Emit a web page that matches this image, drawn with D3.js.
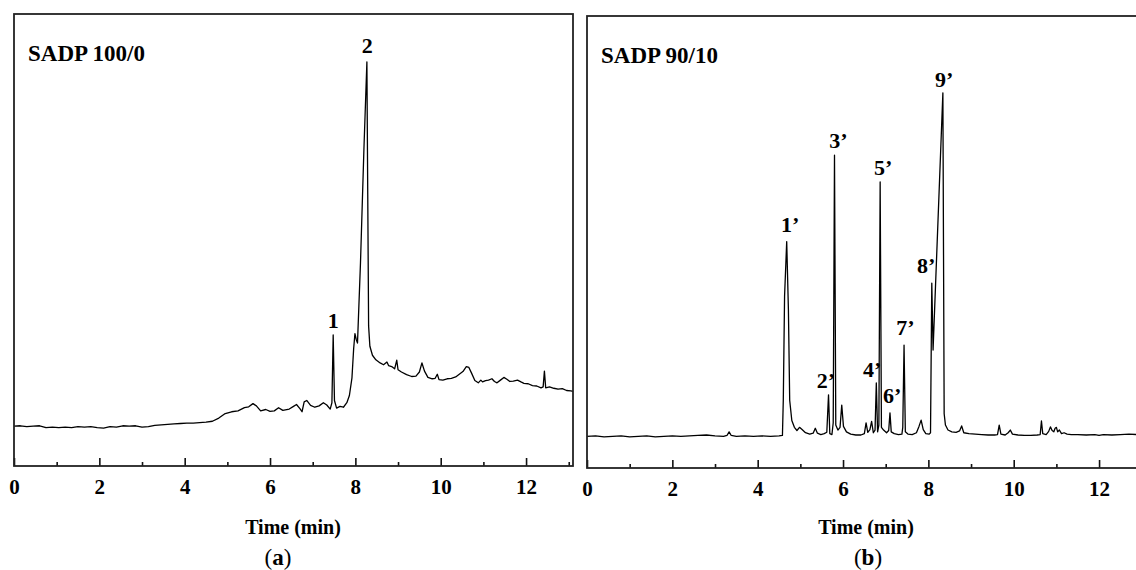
<!DOCTYPE html>
<html>
<head>
<meta charset="utf-8">
<script src="https://cdn.jsdelivr.net/npm/d3@7/dist/d3.min.js"></script>
<style>
  body { margin: 0; background: #fff; }
  svg text { font-family: "Liberation Serif", "Times New Roman", serif; }
</style>
</head>
<body>
<svg id="chart" width="1136" height="570"></svg>
<script>
// chromatogram (a) SADP 100/0 : time in min, intensity in % of axis height
const timeA = [0.00, 0.15, 0.30, 0.45, 0.60, 0.75, 0.90, 1.05, 1.20, 1.35, 1.50, 1.65, 1.80, 1.95, 2.10, 2.25, 2.40, 2.55, 2.70, 2.85,
  3.00, 3.15, 3.30, 3.45, 3.60, 3.75, 3.90, 4.05, 4.20, 4.35, 4.50, 4.65, 4.80, 4.95, 5.10, 5.25, 5.40, 5.50, 5.60, 5.68,
  5.78, 5.90, 6.00, 6.10, 6.20, 6.30, 6.45, 6.55, 6.62, 6.70, 6.75, 6.80, 6.86, 6.95, 7.05, 7.15, 7.25, 7.33, 7.41, 7.45,
  7.48, 7.51, 7.56, 7.64, 7.72, 7.80, 7.86, 7.92, 7.96, 7.99, 8.02, 8.05, 8.12, 8.20, 8.27, 8.29, 8.31, 8.34, 8.40, 8.48,
  8.58, 8.66, 8.74, 8.78, 8.85, 8.92, 8.97, 9.00, 9.08, 9.20, 9.32, 9.42, 9.50, 9.56, 9.62, 9.70, 9.80, 9.87, 9.92, 9.96,
  10.05, 10.15, 10.25, 10.35, 10.45, 10.52, 10.60, 10.66, 10.72, 10.80, 10.88, 10.94, 10.98, 11.05, 11.12, 11.20, 11.26, 11.32, 11.40, 11.48,
  11.55, 11.62, 11.70, 11.80, 11.88, 11.95, 12.05, 12.15, 12.25, 12.35, 12.40, 12.43, 12.46, 12.55, 12.65, 12.75, 12.85, 12.95, 13.05, 13.10];
const signalA = [8.8, 8.9, 8.7, 8.8, 8.9, 8.5, 8.6, 8.5, 8.6, 8.5, 8.7, 8.6, 8.7, 8.5, 8.4, 8.7, 8.6, 8.9, 8.8, 8.9,
  8.6, 8.7, 9.0, 9.1, 9.2, 9.3, 9.4, 9.5, 9.5, 9.6, 9.7, 9.9, 10.6, 11.6, 12.0, 12.2, 12.9, 13.1, 13.8, 13.3,
  12.2, 12.5, 12.1, 12.2, 12.9, 12.3, 12.6, 13.2, 13.6, 12.7, 12.0, 14.2, 14.5, 13.4, 13.0, 13.3, 14.0, 13.5, 12.6, 14.0,
  29.0, 14.5, 12.8, 13.2, 13.0, 14.0, 15.6, 19.5, 26.0, 29.3, 28.0, 27.2, 45.0, 70.0, 89.4, 60.0, 31.0, 26.5, 24.5, 23.5,
  22.8, 22.4, 23.0, 22.2, 22.0, 21.5, 23.4, 21.3, 20.8, 20.2, 19.8, 19.9, 20.8, 22.8, 21.0, 19.6, 19.3, 19.4, 20.3, 19.1,
  19.0, 19.3, 19.4, 19.7, 20.4, 20.9, 22.0, 21.8, 20.6, 18.9, 18.4, 19.0, 18.6, 18.9, 19.0, 19.3, 18.7, 18.4, 19.0, 19.6,
  19.2, 18.7, 18.8, 19.0, 18.6, 18.3, 18.2, 17.8, 17.7, 17.3, 17.5, 21.0, 17.3, 17.5, 17.2, 17.0, 17.1, 16.7, 16.6, 16.5];

// chromatogram (b) SADP 90/10
const timeB = [0.0, 0.2, 0.4, 0.6, 0.8, 1.0, 1.2, 1.4, 1.6, 1.8, 2.0, 2.2, 2.4, 2.6, 2.8, 3.0, 3.2, 3.28, 3.33, 3.38,
  3.5, 3.7, 3.9, 4.1, 4.3, 4.5, 4.58, 4.60, 4.63, 4.68, 4.72, 4.75, 4.80, 4.86, 4.92, 4.98, 5.04, 5.12, 5.22, 5.30,
  5.35, 5.40, 5.48, 5.56, 5.62, 5.66, 5.69, 5.74, 5.77, 5.80, 5.83, 5.88, 5.93, 5.97, 6.01, 6.08, 6.18, 6.30, 6.42, 6.50,
  6.54, 6.58, 6.63, 6.67, 6.71, 6.75, 6.78, 6.81, 6.84, 6.87, 6.90, 6.95, 7.02, 7.07, 7.10, 7.13, 7.20, 7.30, 7.38, 7.40,
  7.43, 7.46, 7.52, 7.62, 7.72, 7.78, 7.83, 7.88, 7.94, 8.02, 8.05, 8.08, 8.11, 8.34, 8.37, 8.40, 8.46, 8.55, 8.65, 8.73,
  8.78, 8.83, 8.95, 9.10, 9.25, 9.40, 9.55, 9.62, 9.66, 9.70, 9.80, 9.87, 9.92, 9.97, 10.10, 10.25, 10.40, 10.55, 10.62, 10.65,
  10.68, 10.76, 10.82, 10.86, 10.90, 10.94, 10.97, 11.00, 11.03, 11.07, 11.12, 11.18, 11.25, 11.35, 11.50, 11.70, 11.90, 12.00, 12.10, 12.30,
  12.50, 12.70, 12.90, 13.10];
const signalB = [7.0, 7.1, 6.9, 7.0, 7.1, 6.9, 7.0, 7.1, 6.9, 7.0, 7.1, 7.0, 7.1, 7.2, 7.3, 7.1, 7.0, 7.2, 8.0, 7.2,
  7.0, 7.1, 7.0, 7.1, 7.0, 7.1, 7.2, 15.0, 38.0, 50.1, 35.0, 15.0, 10.5, 9.0, 8.3, 9.0, 8.5, 7.8, 7.5, 7.7,
  8.8, 7.7, 7.4, 7.6, 7.9, 16.2, 7.6, 7.4, 10.0, 69.2, 9.5, 8.4, 9.0, 13.9, 9.2, 8.0, 7.5, 7.3, 7.3, 7.6,
  10.0, 7.9, 8.5, 10.3, 7.8, 8.4, 18.8, 8.0, 9.5, 63.3, 9.0, 8.4, 7.8, 8.3, 12.2, 8.0, 7.6, 7.4, 7.5, 9.0,
  27.2, 8.0, 7.5, 7.4, 7.8, 9.2, 10.6, 8.5, 7.6, 7.5, 7.8, 40.9, 26.1, 83.0, 12.0, 9.5, 8.4, 8.0, 7.9, 8.2,
  9.3, 7.8, 7.6, 7.5, 7.4, 7.3, 7.3, 7.4, 9.5, 7.5, 7.3, 7.8, 8.4, 7.5, 7.3, 7.2, 7.2, 7.3, 7.4, 10.4,
  7.6, 7.4, 8.1, 9.1, 8.3, 8.0, 8.8, 9.0, 8.0, 8.4, 7.6, 7.8, 7.5, 7.4, 7.4, 7.3, 7.4, 7.2, 7.4, 7.3,
  7.4, 7.5, 7.4, 7.3];

// peak labels: name, time of label centre, intensity of label baseline
const peakNamesA = ['1', '2'];
const peakTimesA = [7.48, 8.28];
const peakLevelsA = [30.5, 91.4];
const peakNamesB = ['1’', '2’', '3’', '4’', '5’', '6’', '7’', '8’', '9’'];
const peakTimesB = [4.76, 5.60, 5.89, 6.68, 6.94, 7.15, 7.46, 7.95, 8.37];
const peakLevelsB = [52.2, 17.7, 70.8, 20.1, 64.8, 14.4, 29.4, 43.1, 84.3];

const majorTicks = [0, 2, 4, 6, 8, 10, 12];
const minorTicks = [1, 3, 5, 7, 9, 11, 13];
const timeDomain = [0, 13.1];

const svg = d3.select('#chart');

function drawPanel(cfg) {
  const w = 559, h = 452;
  const g = svg.append('g').attr('transform', `translate(${cfg.left},${cfg.top})`);

  const x = d3.scaleLinear().domain(timeDomain).range([0, w]);
  const y = d3.scaleLinear().domain([0, 100]).range([h, 0]);

  // minor ticks first, major on top
  g.append('g')
    .attr('transform', `translate(0,${h})`)
    .call(d3.axisBottom(x).tickValues(minorTicks).tickSize(-4).tickFormat(''))
    .call(a => a.select('.domain').remove())
    .call(a => a.selectAll('line').attr('stroke', '#111').attr('stroke-width', 1.6));

  g.append('g')
    .attr('transform', `translate(0,${h})`)
    .call(d3.axisBottom(x).tickValues(majorTicks).tickSize(-8).tickPadding(13).tickFormat(d3.format('d')))
    .call(a => a.select('.domain').remove())
    .call(a => a.selectAll('line').attr('stroke', '#111').attr('stroke-width', 1.6))
    .call(a => a.selectAll('text')
      .attr('fill', '#000')
      .attr('font-size', 21)
      .attr('font-weight', 'bold')
      .attr('font-family', '"Liberation Serif", serif'));

  const line = d3.line()
    .x(i => x(cfg.times[i]))
    .y(i => y(cfg.values[i]));

  g.append('path')
    .attr('d', line(d3.range(cfg.times.length)))
    .attr('fill', 'none')
    .attr('stroke', '#000')
    .attr('stroke-width', 1.3)
    .attr('stroke-linejoin', 'round');

  g.append('rect')
    .attr('x', 0).attr('y', 0)
    .attr('width', w).attr('height', h)
    .attr('fill', 'none')
    .attr('stroke', '#222')
    .attr('stroke-width', 1.8);

  g.append('text')
    .attr('x', 14).attr('y', 47)
    .attr('font-size', 23)
    .attr('font-weight', 'bold')
    .text(cfg.title);

  g.selectAll('.peak')
    .data(cfg.names)
    .join('text')
    .attr('class', 'peak')
    .attr('x', (d, i) => x(cfg.labelTimes[i]))
    .attr('y', (d, i) => y(cfg.labelLevels[i]))
    .attr('text-anchor', 'middle')
    .attr('font-size', 22)
    .attr('font-weight', 'bold')
    .text(d => d);

  svg.append('text')
    .attr('x', cfg.left + cfg.axisLabelX)
    .attr('y', 534)
    .attr('text-anchor', 'middle')
    .attr('font-size', 20)
    .attr('font-weight', 'bold')
    .text('Time (min)');

  const tag = svg.append('text')
    .attr('x', cfg.left + cfg.tagX)
    .attr('y', 565)
    .attr('text-anchor', 'middle')
    .attr('font-size', 23)
    .attr('font-family', '"DejaVu Serif", serif');
  tag.append('tspan').text('(');
  tag.append('tspan').attr('font-weight', 'bold').text(cfg.tag);
  tag.append('tspan').text(')');
}

drawPanel({
  left: 14, top: 14, title: 'SADP 100/0',
  times: timeA, values: signalA,
  names: peakNamesA, labelTimes: peakTimesA, labelLevels: peakLevelsA,
  axisLabelX: 279, tagX: 264, tag: 'a'
});

drawPanel({
  left: 587, top: 16, title: 'SADP 90/10',
  times: timeB, values: signalB,
  names: peakNamesB, labelTimes: peakTimesB, labelLevels: peakLevelsB,
  axisLabelX: 279, tagX: 281, tag: 'b'
});
</script>
</body>
</html>
